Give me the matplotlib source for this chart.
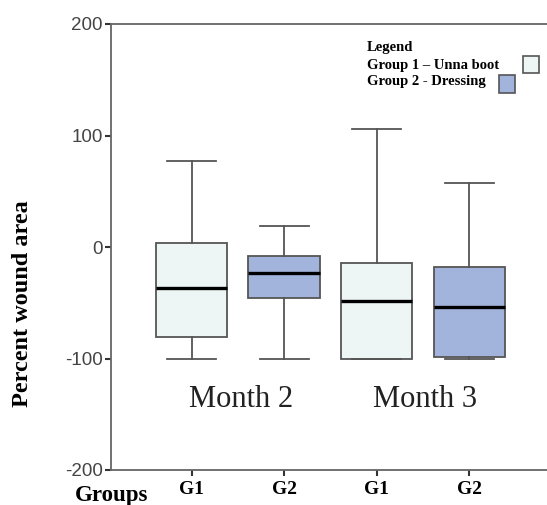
import matplotlib.pyplot as plt

plt.rcParams['axes.unicode_minus'] = False

# box statistics (percent wound area)
groups = ['G1', 'G2', 'G1', 'G2']
whislo = [-100, -100, -100, -100]
q1 = [-81, -46, -100, -99]
med = [-37, -23, -48, -54]
q3 = [4, -8, -14, -18]
whishi = [77, 19, 106, 57]
months = ['Month 2', 'Month 3']

light = '#eef5f5'
blue = '#a3b4dc'
edge = '#555555'
serif = 'Liberation Serif'
sans = 'Liberation Sans'

fig = plt.figure(figsize=(5.47, 5.05), dpi=100)
ax = fig.add_axes([111 / 547, 35 / 505, 1 - 111 / 547, 446 / 505])

stats = []
for i in range(len(groups)):
    stats.append({'whislo': whislo[i], 'q1': q1[i], 'med': med[i],
                  'q3': q3[i], 'whishi': whishi[i], 'fliers': []})

bp = ax.bxp(stats, positions=[1, 2, 3, 4], widths=0.77, capwidths=0.53,
            showfliers=False, patch_artist=True,
            boxprops=dict(edgecolor=edge, linewidth=1.3),
            whiskerprops=dict(color=edge, linewidth=1.3),
            capprops=dict(color=edge, linewidth=1.3),
            medianprops=dict(color='black', linewidth=2.4))
for patch, c in zip(bp['boxes'], [light, blue, light, blue]):
    patch.set_facecolor(c)

ax.set_xlim(0.13, 4.84)
ax.set_ylim(-200, 200)
ax.set_yticks([-200, -100, 0, 100, 200])
ax.set_xticks([1, 2, 3, 4])
ax.set_xticklabels(groups, fontfamily=serif, fontweight='bold', fontsize=14)
for lab in ax.get_yticklabels():
    lab.set_fontfamily(sans)
    lab.set_fontsize(13.5)
    lab.set_color('#444444')
ax.tick_params(axis='y', length=4, width=1.5, pad=2, color='#333333')
ax.tick_params(axis='x', length=4, width=1.5, pad=4, color='#333333')

for s in ['left', 'bottom', 'top']:
    ax.spines[s].set_color('#666666')
    ax.spines[s].set_linewidth(1.3)
ax.spines['right'].set_visible(False)

ax.set_ylabel('Percent wound area', fontfamily=serif, fontweight='bold',
              fontsize=17.5)
ax.yaxis.set_label_coords(-0.18, 0.372)

ax.text(1.53, -137, months[0], fontfamily=serif, fontsize=22, color='#222222',
        ha='center', va='center')
ax.text(3.52, -137, months[1], fontfamily=serif, fontsize=22, color='#222222',
        ha='center', va='center')

fig.text(75 / 547, 10 / 505, 'Groups', fontfamily=serif, fontweight='bold',
         fontsize=16.5, ha='left', va='center')

# legend drawn by hand like the original
fig.text(367 / 547, 1 - 48 / 505, 'Legend', fontfamily=serif, fontweight='bold',
         fontsize=10.5, va='center')
fig.text(367 / 547, 1 - 65 / 505, 'Group 1 \u2013 Unna boot', fontfamily=serif,
         fontweight='bold', fontsize=10.5, va='center')
fig.text(367 / 547, 1 - 82 / 505, 'Group 2 - Dressing', fontfamily=serif,
         fontweight='bold', fontsize=10.5, va='center')
fig.add_artist(plt.Rectangle((523 / 547, 1 - 73 / 505), 16 / 547, 17 / 505,
                             facecolor=light, edgecolor=edge, linewidth=1.2,
                             transform=fig.transFigure))
fig.add_artist(plt.Rectangle((499 / 547, 1 - 93 / 505), 16 / 547, 18 / 505,
                             facecolor=blue, edgecolor=edge, linewidth=1.2,
                             transform=fig.transFigure))

fig.savefig('out.png', dpi=100)
